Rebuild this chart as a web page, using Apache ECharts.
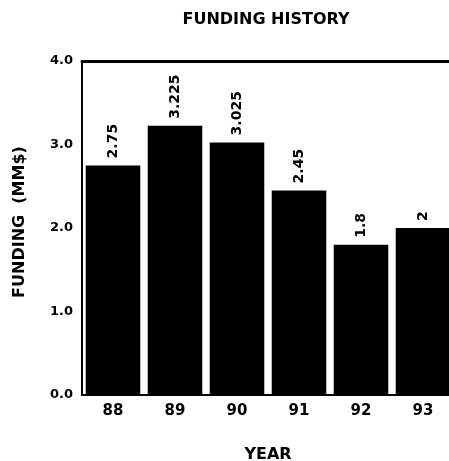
<!DOCTYPE html>
<html><head><meta charset="utf-8">
<script src="https://cdn.jsdelivr.net/npm/echarts@6/dist/echarts.min.js"></script>
<style>html,body{margin:0;padding:0;background:#fff}#c{width:449px;height:461px}</style>
</head><body><div id="c"></div>
<script>
const years = ['88','89','90','91','92','93'];
const funding = [2.75, 3.225, 3.025, 2.45, 1.8, 2];
const yTicks = [0, 1, 2, 3, 4];
const FONT = '"DejaVu Sans", "Liberation Sans", sans-serif';
const chart = echarts.init(document.getElementById('c'));
chart.setOption({
  animation: false,
  backgroundColor: '#fff',
  title: {text: 'FUNDING HISTORY', left: 261, top: 7, textAlign: 'center',
    textStyle: {fontFamily: FONT, fontWeight: 'bold', fontSize: 16, color: '#000'}},
  grid: {left: 82, top: 61, width: 372, height: 334, containLabel: false, outerBoundsMode: 'none'},
  xAxis: [{
    type: 'category', data: years,
    name: 'YEAR', nameLocation: 'middle', nameGap: 52,
    nameTextStyle: {fontFamily: FONT, fontWeight: 'bold', fontSize: 16, color: '#000'},
    axisLine: {show: true, lineStyle: {color: '#000', width: 2}},
    axisTick: {show: false},
    axisLabel: {fontFamily: FONT, fontWeight: 'bold', fontSize: 15, color: '#000', margin: 9}
  }, {
    type: 'category', data: years, position: 'top',
    axisLine: {show: true, lineStyle: {color: '#000', width: 3}},
    axisTick: {show: false}, axisLabel: {show: false}
  }],
  yAxis: {
    type: 'value', min: yTicks[0], max: yTicks[yTicks.length - 1], interval: 1,
    name: 'FUNDING  (MM$)', nameLocation: 'middle', nameGap: 54, nameRotate: 90,
    nameTextStyle: {fontFamily: FONT, fontWeight: 'bold', fontSize: 16, color: '#000', padding: [0, 0, 0, 12]},
    axisLine: {show: true, lineStyle: {color: '#000', width: 2}},
    axisTick: {show: false},
    splitLine: {show: false},
    axisLabel: {fontFamily: FONT, fontWeight: 'bold', fontSize: 13, color: '#000', margin: 9,
      formatter: v => v.toFixed(1)}
  },
  series: [{
    type: 'bar', data: funding, barCategoryGap: '12%',
    itemStyle: {color: '#000'},
    label: {show: true, position: 'top', rotate: 90, align: 'left', verticalAlign: 'middle',
      distance: 7, fontFamily: FONT, fontWeight: 'bold', fontSize: 14, color: '#000',
      formatter: p => String(p.value)}
  }]
});
</script></body></html>
